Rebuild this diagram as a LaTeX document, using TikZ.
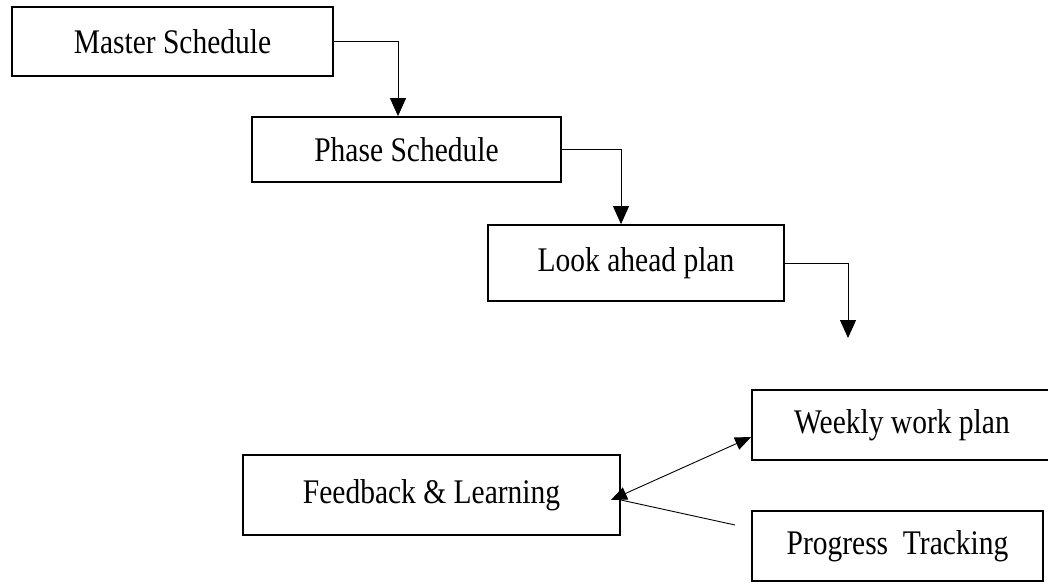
\documentclass[tikz,border=0pt]{standalone}
\usepackage{fontspec}
\setmainfont{Liberation Serif}
\usetikzlibrary{arrows.meta}
\begin{document}
\begin{tikzpicture}[x=1pt,y=-1pt,
  box/.style={draw=black, line width=1.8pt, rectangle, inner sep=0pt, fill=white,
    font=\fontsize{29.5}{30}\selectfont},
  conn/.style={line width=0.9pt, draw=black},
  bigtip/.style={-{Triangle[length=18pt,width=16pt]}},
  smalltip/.style={{Triangle[length=16pt,width=13pt]}-{Triangle[length=16pt,width=13pt]}}]
\useasboundingbox (0,0) rectangle (1048,582);
\clip (0,0) rectangle (1048,582);
\fill[white] (0,0) rectangle (1048,582);
\node[box, minimum width=321pt, minimum height=69pt] (ms) at (172.5,41.5) {\scalebox{1}[1.17]{Master Schedule}\hspace{10pt}};
\node[box, minimum width=309pt, minimum height=65pt] (ps) at (406.5,149.5) {\scalebox{1}[1.17]{Phase Schedule}\hspace{7pt}};
\node[box, minimum width=296pt, minimum height=76pt] (la) at (636,263) {\scalebox{1}[1.17]{Look ahead plan}\hspace{8pt}};
\node[box, minimum width=300pt, minimum height=70pt] (wk) at (902,425) {\scalebox{1}[1.17]{Weekly work plan}};
\node[box, minimum width=291pt, minimum height=70pt] (pt) at (897.5,546) {\scalebox{1}[1.17]{Progress\ \ Tracking}\hspace{12pt}};
\node[box, minimum width=377pt, minimum height=80pt] (fb) at (431.5,495) {\scalebox{1}[1.17]{Feedback \& Learning}\hspace{11pt}};
\coordinate (lend) at (848,338);
\draw[conn,bigtip] (ms.east) -| ([xshift=-8.5pt]ps.north);
\draw[conn,bigtip] (ps.east) -| ([xshift=-15pt]la.north);
\draw[conn,bigtip] (la.east) -| (lend);
\draw[conn,smalltip] ([shift={(-10,5)}]fb.east) -- ([shift={(0,12)}]wk.west);
\draw[conn] ([shift={(-16,-21)}]pt.west) -- ([shift={(0,5)}]fb.east);
\end{tikzpicture}
\end{document}
